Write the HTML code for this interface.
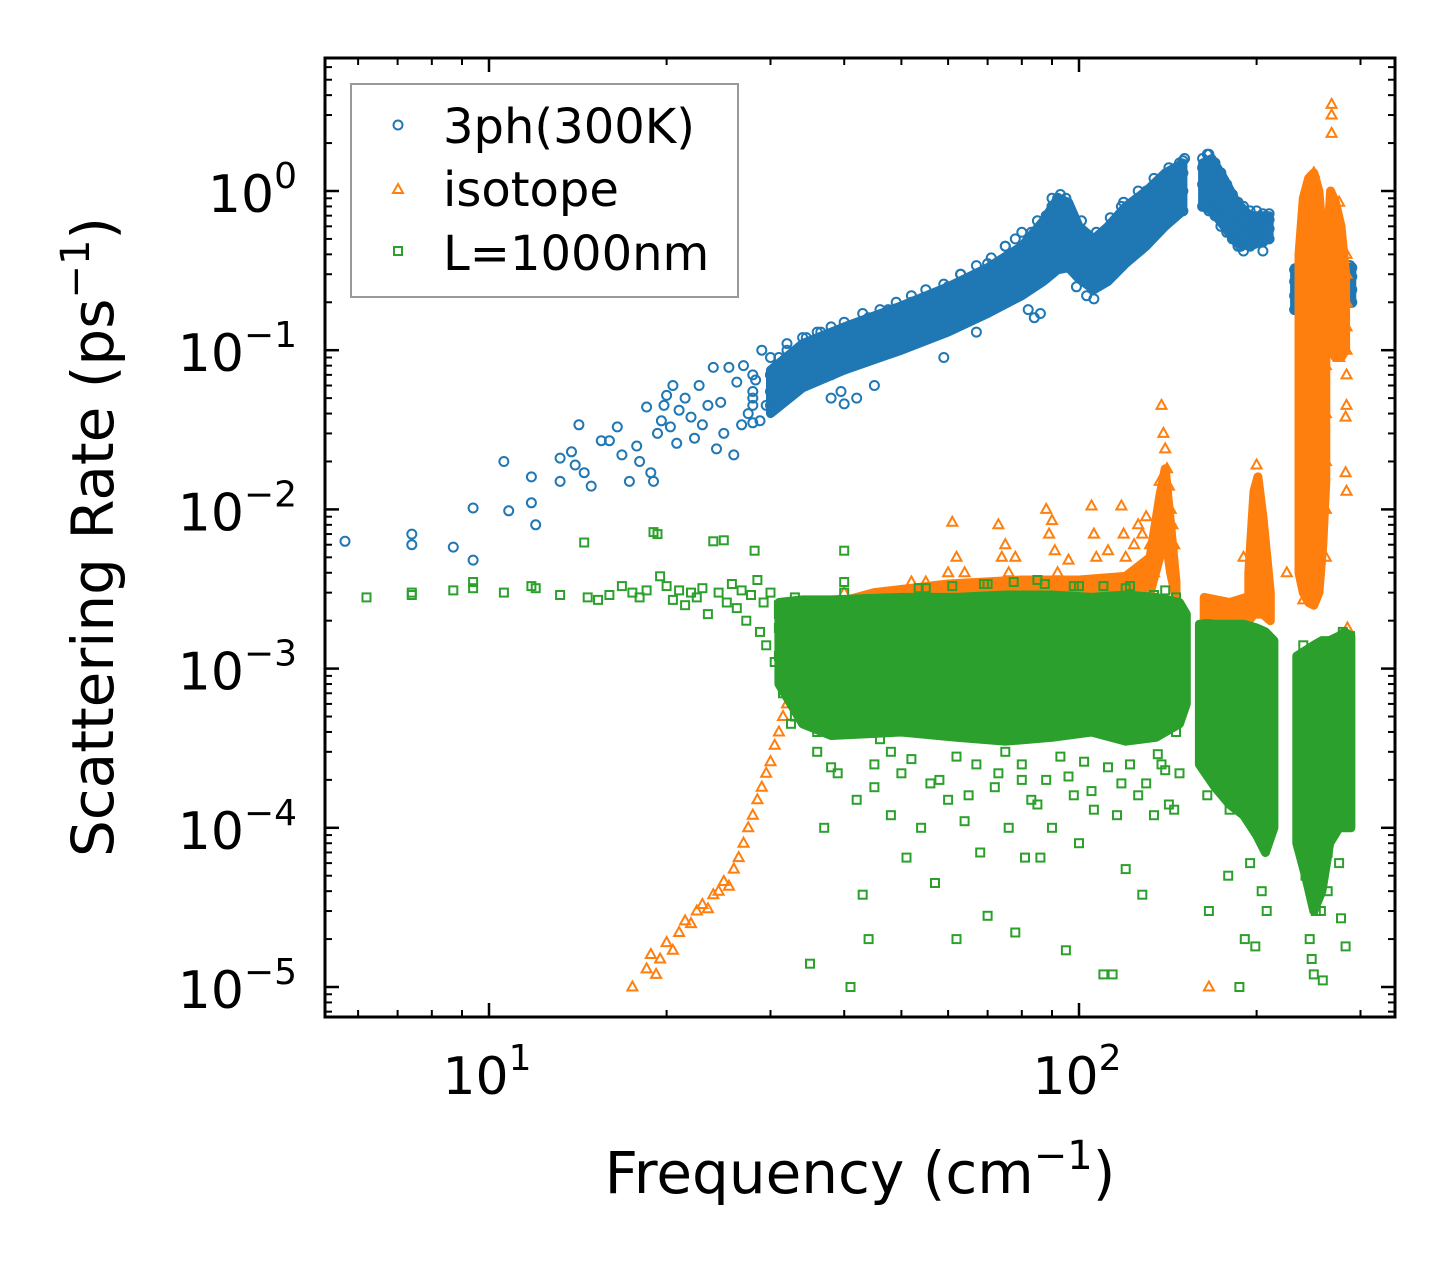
<!DOCTYPE html>
<html><head><meta charset="utf-8">
<style>
html,body{margin:0;padding:0;background:#fff;}
svg{display:block;font-family:"DejaVu Sans","Liberation Sans",sans-serif;}
</style></head>
<body>
<svg id="chart" width="1455" height="1265" viewBox="0 0 1455 1265" xmlns="http://www.w3.org/2000/svg">
<rect width="1455" height="1265" fill="#fff"/>
<g id="marks"></g>
<g id="axes"></g>
<text x="860" y="1193" font-size="58" text-anchor="middle">Frequency (cm<tspan font-size="40" dy="-24">−1</tspan><tspan dy="24">)</tspan></text>
<text transform="translate(113,537) rotate(-90)" font-size="58" text-anchor="middle">Scattering Rate (ps<tspan font-size="40" dy="-24">−1</tspan><tspan dy="24">)</tspan></text>
<g>
<rect x="351" y="84" width="387" height="213" fill="#fff" fill-opacity="0.8" stroke="#999" stroke-width="2"/>
<g>
<circle cx="398" cy="125" r="4.5" fill="none" stroke="#1f77b4" stroke-width="2"/>
<text x="443" y="143" font-size="48">3ph(300K)</text></g>
<g>
<path d="M398,184 L403,193 L393,193 Z" fill="none" stroke="#ff7f0e" stroke-width="2"/>
<text x="443" y="206" font-size="48">isotope</text></g>
<g>
<rect x="394" y="247" width="8" height="8" fill="none" stroke="#2ca02c" stroke-width="2"/>
<text x="443" y="270" font-size="48">L=1000nm</text></g>
</g>
</svg>
<script>
// ---------- axis tick data ----------
const xMajorTicks = [10, 100];
const xMajorLabels = ["1", "2"];
const yMajorTicks = [1, 0.1, 0.01, 0.001, 0.0001, 0.00001];
const yMajorLabels = ["0", "−1", "−2", "−3", "−4", "−5"];

// ---------- 3ph (300K) data: sparse points [freq cm^-1, rate ps^-1] ----------
const phSparse = [[5.7,0.0063],[7.4,0.007],[7.4,0.006],[8.7,0.0058],[9.4,0.0048],[9.4,0.0102],[10.6,0.02],[10.8,0.0098],[11.8,0.016],[11.8,0.011],[12,0.008],[13.2,0.021],[13.2,0.015],[13.8,0.023],[14,0.019],[14.2,0.034],[14.5,0.017],[14.9,0.014],[15.5,0.027],[16,0.027],[16.5,0.033],[16.8,0.022],[17.3,0.015],[17.8,0.025],[18,0.02],[18.5,0.044],[18.8,0.017],[19,0.015],[19.3,0.03],[19.6,0.036],[19.8,0.045],[20,0.052],[20.3,0.033],[20.5,0.06],[20.8,0.026],[21,0.042],[21.5,0.05],[22,0.038],[22.3,0.028],[22.7,0.06],[23,0.034],[23.5,0.045],[24,0.078],[24.3,0.024],[24.7,0.047],[25,0.03],[25.5,0.078],[26,0.022],[26.3,0.063],[26.8,0.034],[27,0.08],[27.5,0.04],[28,0.05],[28.3,0.065],[28.8,0.036],[29,0.1],[29.5,0.045],[30,0.07],[31,0.09],[32,0.11],[33.5,0.1],[34.5,0.12],[36.5,0.13],[39.5,0.055],[41.5,0.14],[42,0.05],[44,0.16],[47.5,0.18],[40,0.046],[38,0.05],[45,0.06],[52,0.2],[59,0.09],[60,0.25],[63,0.3],[67,0.13],[70,0.35],[75,0.45],[78,0.5],[82,0.18],[83,0.55],[88,0.7],[90,0.8],[92,0.9],[93,0.95],[84,0.16],[86,0.17],[99,0.25],[103,0.22],[106,0.21],[118,0.8],[130,1.0],[136,1.1],[144,1.3],[148,1.5],[151,1.6],[165,1.7],[188,0.45],[205,0.42]];
const phCore = [[28,.035,.045,.055,.07],[30,.045,.055,.07,.09],[32,.05,.065,.08,.1],[34,.06,.075,.09,.12],[36,.065,.085,.1,.13],[38,.07,.09,.115,.14],[40,.08,.1,.12,.15],[43,.085,.11,.13,.17],[46,.095,.12,.15,.18],[49,.1,.13,.16,.2],[52,.11,.14,.18,.22],[55,.12,.15,.19,.24],[59,.13,.17,.21,.26],[63,.15,.19,.24,.3],[67,.17,.21,.27,.34],[71,.19,.24,.3,.38],[75,.21,.27,.35,.45],[80,.24,.3,.4,.55],[85,.27,.36,.5,.65],[90,.32,.45,.65,.9],[95,.35,.5,.7,.9],[101,.28,.38,.5,.65],[107,.25,.32,.42,.55],[113,.3,.4,.52,.68],[119,.36,.5,.65,.85],[126,.45,.6,.8,1.0],[134,.55,.7,.9,1.2],[142,.65,.85,1.1,1.4],[150,.75,1.0,1.3,1.55],[162,.8,1.1,1.4,1.6],[166,.75,1.0,1.3,1.7],[170,.7,.9,1.15,1.5],[174,.6,.8,1.0,1.3],[178,.55,.7,.9,1.1],[182,.5,.62,.8,.95],[186,.45,.58,.72,.85],[190,.42,.52,.65,.8],[195,.45,.55,.65,.75],[200,.48,.56,.65,.75],[205,.48,.56,.65,.72],[210,.5,.58,.66,.72],[232,.18,.22,.27,.32],[234,.18,.22,.27,.32],[246,.18,.23,.28,.34],[258,.19,.23,.28,.33],[270,.2,.24,.28,.33],[282,.19,.23,.27,.31],[288,.21,.25,.3,.34],[290,.2,.24,.29,.33]];
const phBand = [
 [[30,0.04,0.075],[34,0.058,0.11],[40,0.075,0.14],[50,0.1,0.19],[60,0.13,0.25],[70,0.17,0.33],[80,0.22,0.45],[87,0.27,0.65],[92,0.32,0.9],[96,0.33,0.85],[100,0.28,0.6],[106,0.24,0.5],[112,0.27,0.6],[120,0.35,0.8],[130,0.45,1.0],[140,0.6,1.3],[150,0.75,1.5]],
 [[162,0.8,1.5],[168,0.75,1.6],[176,0.6,1.2],[185,0.47,0.85],[195,0.45,0.7],[210,0.5,0.7]],
 [[232,0.18,0.33],[260,0.19,0.33],[290,0.2,0.33]]
];

// ---------- isotope data ----------
const isoSparse = [[17.5,1e-5],[18.5,1.3e-5],[18.8,1.6e-5],[19.2,1.2e-5],[19.5,1.5e-5],[20,1.9e-5],[20.5,1.7e-5],[21,2.2e-5],[21.5,2.6e-5],[22,2.5e-5],[22.5,3e-5],[23,3.3e-5],[23.5,3.1e-5],[24,3.8e-5],[24.5,4e-5],[25,4.6e-5],[25.5,4.3e-5],[26,5.5e-5],[26.5,6.5e-5],[27,8e-5],[27.5,1e-4],[28,1.2e-4],[28.5,1.5e-4],[29,1.8e-4],[29.5,2.2e-4],[30,2.6e-4],[30.5,3.3e-4],[31,4e-4],[31.5,5e-4],[32,6e-4],[32.5,7.5e-4],[33,9e-4],[33.5,1.1e-3],[34,1.3e-3],[35,1.5e-3],[36,1.8e-3],[38,2e-3],[40,2.5e-3],[45,2.8e-3],[50,3e-3],[55,3.5e-3],[61,8.3e-3],[60,4e-3],[62,5e-3],[73,8e-3],[74,5e-3],[75,6e-3],[76,4e-3],[88,1e-2],[89,7e-3],[90,8.5e-3],[91,5.5e-3],[92,4e-3],[105,1.05e-2],[106,7e-3],[107,5e-3],[118,1.05e-2],[119,7e-3],[120,5e-3],[124,6e-3],[126,8e-3],[128,7e-3],[130,9e-3],[132,6e-3],[138,4.5e-2],[139,3e-2],[140,2.4e-2],[141,1.8e-2],[142,1.4e-2],[143,1e-2],[144,8e-3],[145,6e-3],[137,1.5e-2],[136,9e-3],[166,1e-5],[190,5e-3],[192,2.5e-3],[268,3.5],[268,3.0],[268,2.3],[284,0.045],[283,0.038],[283,0.017],[284,0.013],[285,0.0018],[225,0.004],[240,0.0027]];
const isoCore = [[40,2e-3,3e-3],[52,2.4e-3,3.5e-3],[64,2.5e-3,4e-3],[78,3e-3,5e-3],[96,3e-3,4.8e-3],[112,3.2e-3,5.5e-3],[134,4e-3,6e-3],[200,2.5e-3,5e-3,8e-3,1.3e-2,1.9e-2],[250,3e-3,6e-3,1.2e-2,2.4e-2,4.8e-2,.1,.2,.4,.8,1.3],[262,5e-3,1e-2,2e-2,4e-2,.08,.16,.3],[276,.09,.13,.19,.28,.42,.6,.85],[284,.07,.1,.14,.2,.3,.4]];
const isoBand = [
 [[33,1.0e-3,1.6e-3],[36,1.5e-3,2.4e-3],[45,2.2e-3,3.0e-3],[60,2.5e-3,3.4e-3],[80,2.6e-3,3.6e-3],[100,2.7e-3,3.6e-3],[120,2.8e-3,3.8e-3],[132,3e-3,5e-3],[137,5e-3,1.2e-2],[140,7e-3,1.8e-2],[143,4e-3,8e-3],[146,2.8e-3,3.5e-3]],
 [[163,1.8e-3,2.8e-3],[180,1.8e-3,2.6e-3],[192,1.8e-3,2.8e-3]],
 [[194,2e-3,4e-3],[198,2.2e-3,1.3e-2],[201,2.2e-3,1.6e-2],[205,2.2e-3,9e-3],[211,2e-3,3e-3]],
 [[236,4e-3,0.4],[240,3e-3,0.9],[245,2.6e-3,1.2],[250,2.5e-3,1.3],[255,3e-3,1.0],[259,6e-3,0.5],[262,0.015,0.2]],
 [[264,0.1,0.5],[267,0.1,1.0],[272,0.09,0.85],[278,0.09,0.6],[283,0.1,0.3]]
];

// ---------- L=1000nm data ----------
const bdSparse = [[6.2,2.8e-3],[7.4,3e-3],[7.4,2.9e-3],[8.7,3.1e-3],[9.4,3.5e-3],[9.4,3.2e-3],[10.6,3e-3],[11.8,3.3e-3],[12,3.2e-3],[13.2,2.9e-3],[14.5,6.2e-3],[14.7,2.8e-3],[15.3,2.7e-3],[16,2.9e-3],[16.8,3.3e-3],[17.5,3e-3],[18,2.8e-3],[18.5,3.1e-3],[19,7.2e-3],[19.3,7e-3],[19.5,3.8e-3],[20,3.3e-3],[20.5,2.7e-3],[21,3.1e-3],[21.5,2.5e-3],[22,3e-3],[22.5,2.8e-3],[23,3.2e-3],[23.5,2.2e-3],[24,6.3e-3],[24.5,3e-3],[25,6.4e-3],[25.3,2.6e-3],[25.8,3.4e-3],[26.3,2.4e-3],[26.8,3.1e-3],[27.3,2e-3],[27.8,2.9e-3],[28.2,5.5e-3],[28.5,3.6e-3],[28.8,1.7e-3],[29.2,2.6e-3],[29.5,1.4e-3],[30,3e-3],[30.5,1.1e-3],[31,2.2e-3],[31.5,7e-4],[32,1.6e-3],[32.5,4.5e-4],[33,2.8e-3],[33.5,9e-4],[35,1.4e-5],[36,3e-4],[37,1e-4],[39,2.2e-4],[40,5.5e-3],[41,1e-5],[42,1.5e-4],[43,3.8e-5],[44,2e-5],[45,2.5e-4],[48,1.2e-4],[50,2.2e-4],[51,6.5e-5],[54,1e-4],[57,4.5e-5],[58,2e-4],[60,1.5e-4],[62,2e-5],[64,1.1e-4],[67,2.5e-4],[68,7e-5],[70,2.8e-5],[72,1.8e-4],[75,3e-4],[76,1e-4],[78,2.2e-5],[80,2.5e-4],[81,6.5e-5],[83,1.5e-4],[86,6.5e-5],[88,2e-4],[90,1e-4],[93,2.8e-4],[95,1.7e-5],[98,1.6e-4],[100,8e-5],[106,1.3e-4],[110,1.2e-5],[114,1.2e-5],[116,1.2e-4],[120,5.5e-5],[122,2.5e-4],[126,1.6e-4],[128,3.8e-5],[134,1.2e-4],[138,2.5e-4],[142,1.4e-4],[148,2.2e-4],[166,3e-5],[179,5e-5],[187,1e-5],[191,2e-5],[195,6e-5],[199,1.8e-5],[204,4e-5],[208,3e-5],[242,5e-5],[246,2e-5],[248,1.5e-5],[250,1.2e-5],[257,3e-5],[259,1.1e-5],[264,4e-5],[276,6e-5],[278,2.7e-5],[283,1.8e-5],[40,3.5e-3],[55,3.2e-3],[70,3.4e-3],[85,3.6e-3],[100,3.3e-3],[120,3.2e-3],[140,3.1e-3],[45,1.8e-4],[65,1.6e-4],[85,1.4e-4],[105,1.7e-4],[130,1.9e-4],[145,1.3e-4],[38,2.4e-4],[52,2.7e-4],[56,1.9e-4],[73,2.2e-4],[96,2.1e-4],[112,2.4e-4],[140,2.3e-4],[48,3e-4],[62,2.8e-4],[80,2e-4],[102,2.6e-4],[118,1.9e-4],[136,2.9e-4]];
const bdCoreE3 = [[31,2.5,1.8,1.2],[33,2.6,1.9,1.3,0.8,0.5],[36,2.6,1.9,1.3,0.9,0.6,0.4],[40,3.0,2.2,1.5,1.05,0.7,0.48],[46,2.7,1.9,1.3,0.9,0.6,0.36],[53.5,3.2,2.3,1.6,1.1,0.75,0.5],[61,3.3,2.3,1.6,1.1,0.75,0.5],[69,3.4,2.4,1.65,1.15,0.78,0.52],[77.5,3.5,2.4,1.7,1.15,0.78,0.5],[87.5,3.4,2.4,1.65,1.15,0.76,0.5],[98,3.3,2.3,1.6,1.1,0.75,0.5],[110,3.3,2.3,1.6,1.1,0.75,0.48],[122,3.3,2.35,1.62,1.12,0.76,0.5],[134,2.9,2.1,1.45,1.0,0.67,0.43],[146,2.8,2.0,1.4,0.96,0.64,0.4],[165,1.9,1.35,0.95,0.62,0.42,0.27,0.16],[180,1.7,1.25,0.86,0.57,0.37,0.23,0.13],[195,1.8,1.3,0.9,0.6,0.4,0.25,0.14],[210,1.5,1.1,0.75,0.5,0.32,0.19,0.1],[240,1.4,1.0,0.62,0.37,0.22,0.13,0.075],[252,1.3,0.9,0.58,0.34,0.2,0.11,0.06,0.03],[264,1.4,1.0,0.62,0.37,0.22,0.13,0.07],[280,1.7,1.2,0.7,0.4,0.24,0.14],[288,1.6,1.1,0.68,0.38,0.22]];
const bdCoreUnit = 1e-3;
const bdBand = [
 [[31,0.8e-3,2.6e-3],[34,0.45e-3,2.7e-3],[38,0.38e-3,2.7e-3],[50,0.4e-3,2.8e-3],[62,0.37e-3,2.8e-3],[75,0.35e-3,2.9e-3],[90,0.37e-3,2.9e-3],[105,0.4e-3,2.8e-3],[120,0.35e-3,2.9e-3],[135,0.37e-3,2.8e-3],[148,0.45e-3,2.6e-3],[152,0.6e-3,2.2e-3]],
 [[160,0.25e-3,1.9e-3],[170,0.18e-3,1.9e-3],[180,0.14e-3,1.9e-3],[190,0.12e-3,1.9e-3],[200,0.09e-3,1.8e-3],[207,0.07e-3,1.7e-3],[214,0.1e-3,1.5e-3]],
 [[234,0.08e-3,1.2e-3],[242,0.05e-3,1.3e-3],[250,0.03e-3,1.4e-3],[258,0.04e-3,1.5e-3],[266,0.08e-3,1.5e-3],[276,0.1e-3,1.6e-3],[282,0.1e-3,1.7e-3],[289,0.1e-3,1.6e-3]]
];

// ---------- scales ----------
const X0 = 489, XDEC = 590, Y0 = 191, YDEC = 159.2;
const PL = 325, PR = 1395, PT = 58, PB = 1017;
function xs(f){ return X0 + XDEC * (Math.log10(f) - 1); }
function ys(r){ return Y0 - YDEC * Math.log10(r); }

const NS = 'http://www.w3.org/2000/svg';
const marks = document.getElementById('marks');
const axes = document.getElementById('axes');

function mk(tag, attrs, parent){
  const el = document.createElementNS(NS, tag);
  for (const k in attrs) el.setAttribute(k, attrs[k]);
  parent.appendChild(el);
  return el;
}

function drawPoint(kind, f, r, g){
  const x = xs(f), y = ys(r);
  let el;
  if (kind === 'circle') {
    el = mk('circle', {cx: x.toFixed(1), cy: y.toFixed(1), r: 4.5, fill: 'none', stroke: '#1f77b4', 'stroke-width': 2}, g);
    
  } else if (kind === 'tri') {
    el = mk('path', {d: `M${x.toFixed(1)},${(y-5.5).toFixed(1)} L${(x+5).toFixed(1)},${(y+3.5).toFixed(1)} L${(x-5).toFixed(1)},${(y+3.5).toFixed(1)} Z`, fill: 'none', stroke: '#ff7f0e', 'stroke-width': 2}, g);
    
  } else {
    el = mk('rect', {x: (x-4).toFixed(1), y: (y-4).toFixed(1), width: 8, height: 8, fill: 'none', stroke: '#2ca02c', 'stroke-width': 2}, g);
    
  }
  
}

function drawBand(segs, color, g){
  segs.forEach(seg => {
    const top = seg.map(p => `${xs(p[0]).toFixed(1)},${ys(p[2]).toFixed(1)}`);
    const bot = seg.slice().reverse().map(p => `${xs(p[0]).toFixed(1)},${ys(p[1]).toFixed(1)}`);
    const el = mk('polygon', {points: top.concat(bot).join(' '), fill: color, stroke: color, 'stroke-width': 9, 'stroke-linejoin': 'round'}, g);
    
    
  });
}

function drawSeries(kind, color, band, sparse, core, unit, name){
  const g = mk('g', {}, marks);
  
  
  drawBand(band, color, g);
  core.forEach(row => { for (let i = 1; i < row.length; i++) drawPoint(kind, row[0], row[i] * unit, g); });
  sparse.forEach(p => drawPoint(kind, p[0], p[1], g));
}

const clip = mk('clipPath', {id: 'pc'}, document.getElementById('chart'));
mk('rect', {x: PL, y: PT, width: PR - PL, height: PB - PT}, clip);
marks.setAttribute('clip-path', 'url(#pc)');

drawSeries('circle', '#1f77b4', phBand, phSparse, phCore, 1, 'series-3ph');
drawSeries('tri', '#ff7f0e', isoBand, isoSparse, isoCore, 1, 'series-isotope');
drawSeries('square', '#2ca02c', bdBand, bdSparse, bdCoreE3, bdCoreUnit, 'series-boundary');

// ---------- axes ----------
mk('rect', {x: PL, y: PT, width: PR - PL, height: PB - PT, fill: 'none', stroke: '#000', 'stroke-width': 3}, axes);
function tick(x1,y1,x2,y2,w){ mk('line',{x1,y1,x2,y2,stroke:'#000','stroke-width':w},axes); }
for (let d = 0; d <= 2; d++) {
  for (let m = 1; m <= 9; m++) {
    const f = m * Math.pow(10, d);
    const x = xs(f);
    if (x < PL || x > PR) continue;
    const L = m === 1 ? 14 : 7, w = m === 1 ? 2.5 : 2;
    tick(x, PB, x, PB - L, w); tick(x, PT, x, PT + L, w);
  }
}
for (let d = -6; d <= 1; d++) {
  for (let m = 1; m <= 9; m++) {
    const r = m * Math.pow(10, d);
    const y = ys(r);
    if (y < PT || y > PB) continue;
    const L = m === 1 ? 14 : 7, w = m === 1 ? 2.5 : 2;
    tick(PL, y, PL + L, y, w); tick(PR, y, PR - L, y, w);
  }
}
xMajorTicks.forEach((f, i) => {
  const t = mk('text', {x: xs(f) - 2, y: 1094, 'font-size': 52, 'text-anchor': 'middle'}, axes);
  
  
  t.innerHTML = `10<tspan font-size="36" dy="-24">${xMajorLabels[i]}</tspan>`;
});
yMajorTicks.forEach((r, i) => {
  const t = mk('text', {x: 297, y: ys(r) + 21, 'font-size': 52, 'text-anchor': 'end'}, axes);
  
  
  t.innerHTML = `10<tspan font-size="36" dy="-24">${yMajorLabels[i]}</tspan>`;
});
</script>
</body></html>
